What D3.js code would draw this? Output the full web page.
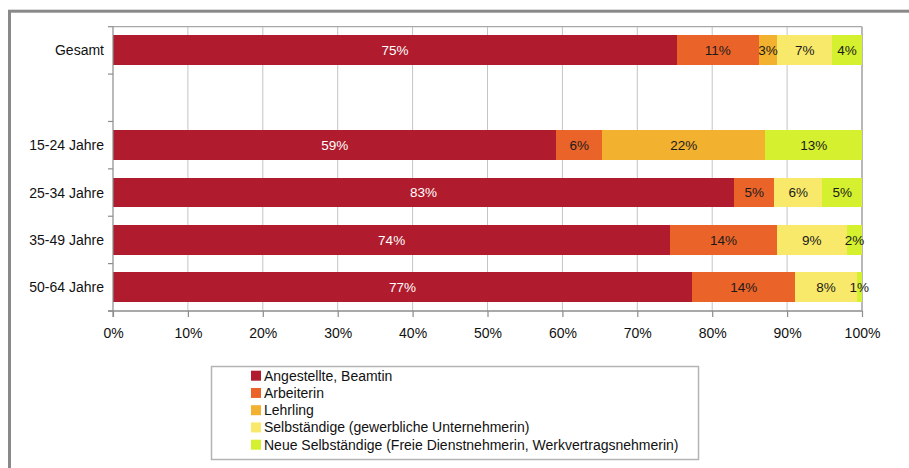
<!DOCTYPE html>
<html>
<head>
<meta charset="utf-8">
<script src="https://cdn.jsdelivr.net/npm/d3@7"></script>
<style>
  body { margin: 0; background: #fff; }
  text { font-family: "Liberation Sans", Arial, sans-serif; }
</style>
</head>
<body>
<script>
// -------------------- DATA --------------------
var categories = ["Gesamt", "", "15-24 Jahre", "25-34 Jahre", "35-49 Jahre", "50-64 Jahre"];
var seriesNames = [
  "Angestellte, Beamtin",
  "Arbeiterin",
  "Lehrling",
  "Selbständige (gewerbliche Unternehmerin)",
  "Neue Selbständige (Freie Dienstnehmerin, Werkvertragsnehmerin)"
];
// values in percent, one array per series, in the order of categories (empty row = null)
var angestellte  = [75.3, null, 59.2, 82.9, 74.4, 77.3];
var arbeiterin   = [10.9, null,  6.1,  5.4, 14.2, 13.8];
var lehrling     = [ 2.5, null, 21.8,  0,    0,    0  ];
var selbstaendig = [ 7.3, null,  0,    6.4,  9.4,  8.2];
var neueSelbst   = [ 4.0, null, 12.9,  5.3,  2.0,  0.7];
var xTicks = [0, 10, 20, 30, 40, 50, 60, 70, 80, 90, 100];

var colors = ["#b01c2e", "#ea642a", "#f2b12e", "#f8e96a", "#d4f02e"];
var series = [angestellte, arbeiterin, lehrling, selbstaendig, neueSelbst];

// -------------------- DIMENSIONS --------------------
var w = 909, h = 468;
var plot = { left: 113, right: 862, top: 26.7, bottom: 311 };

var svg = d3.select("body").append("svg")
  .attr("width", w)
  .attr("height", h);

// outer frame (runs off the right and bottom edge)
svg.append("rect")
  .attr("x", 9.5).attr("y", 11.2)
  .attr("width", 1000).attr("height", 1000)
  .attr("fill", "none")
  .attr("stroke", "#898989")
  .attr("stroke-width", 3);

// -------------------- SCALES --------------------
var x = d3.scaleLinear().domain([0, 100]).range([plot.left, plot.right]);
var y = d3.scaleBand()
  .domain(categories)
  .range([plot.top, plot.bottom])
  .paddingInner(0.37)
  .paddingOuter(0.185);

// gridlines
svg.append("g").selectAll("line")
  .data(xTicks.slice(1))
  .enter().append("line")
  .attr("x1", function(d){ return x(d); })
  .attr("x2", function(d){ return x(d); })
  .attr("y1", plot.top).attr("y2", plot.bottom)
  .attr("stroke", function(d){ return d === 100 ? "#a0a0a0" : "#c4c4c4"; })
  .attr("stroke-width", function(d){ return d === 100 ? 1.5 : 1; });

// top border of plot area
svg.append("line")
  .attr("x1", plot.left).attr("x2", plot.right)
  .attr("y1", plot.top).attr("y2", plot.top)
  .attr("stroke", "#a8a8a8").attr("stroke-width", 1.2);

// -------------------- STACKED BARS --------------------
var rows = categories.map(function(c, i) {
  var start = 0;
  return series.map(function(s, k) {
    var v = s[i];
    var seg = { cat: c, k: k, v: v, x0: start, x1: start + (v || 0) };
    start += (v || 0);
    return seg;
  });
});
var segs = [].concat.apply([], rows).filter(function(d){ return d.v; });

var g = svg.append("g");
g.selectAll("rect")
  .data(segs)
  .enter().append("rect")
  .attr("x", function(d){ return x(d.x0); })
  .attr("width", function(d){ return x(d.x1) - x(d.x0); })
  .attr("y", function(d){ return y(d.cat); })
  .attr("height", y.bandwidth())
  .attr("fill", function(d){ return colors[d.k]; })
  .attr("shape-rendering", "crispEdges");

g.selectAll("text")
  .data(segs)
  .enter().append("text")
  .attr("x", function(d){ return x((d.x0 + d.x1) / 2); })
  .attr("y", function(d){ return y(d.cat) + y.bandwidth() / 2; })
  .attr("dy", "0.36em")
  .attr("text-anchor", "middle")
  .attr("font-size", "13.5px")
  .attr("fill", function(d){ return d.k === 0 ? "#ffffff" : "#1a1a1a"; })
  .text(function(d){ return Math.round(d.v) + "%"; });

// -------------------- AXES --------------------
var axisColor = "#8c8c8c";
// y axis line + ticks at band boundaries
svg.append("line")
  .attr("x1", plot.left).attr("x2", plot.left)
  .attr("y1", plot.top).attr("y2", plot.bottom + 6)
  .attr("stroke", axisColor).attr("stroke-width", 1.2);
var bounds = d3.range(categories.length + 1).map(function(i){ return y.range()[0] + i * y.step(); });
svg.append("g").selectAll("line")
  .data(bounds)
  .enter().append("line")
  .attr("x1", plot.left - 5).attr("x2", plot.left)
  .attr("y1", function(d){ return d; }).attr("y2", function(d){ return d; })
  .attr("stroke", axisColor).attr("stroke-width", 1.2);

svg.append("g").selectAll("text")
  .data(categories)
  .enter().append("text")
  .attr("x", 104)
  .attr("y", function(d){ return y(d) + y.bandwidth() / 2; })
  .attr("dy", "0.36em")
  .attr("text-anchor", "end")
  .attr("font-size", "14px")
  .attr("fill", "#111")
  .text(function(d){ return d; });

// x axis
var xAxis = svg.append("g")
  .attr("transform", "translate(0," + plot.bottom + ")")
  .call(d3.axisBottom(x).tickValues(xTicks).tickSize(6).tickPadding(11)
    .tickFormat(function(d){ return d + "%"; }));
xAxis.select(".domain").attr("stroke", axisColor).attr("stroke-width", 1.5)
  .attr("d", "M" + (plot.left - 5) + ",0H" + plot.right);
xAxis.selectAll(".tick line").attr("stroke", axisColor).attr("stroke-width", 1.2);
xAxis.selectAll(".tick text")
  .attr("font-size", "14px")
  .attr("font-family", "'Liberation Sans', Arial, sans-serif")
  .attr("fill", "#111");

// -------------------- LEGEND --------------------
svg.append("rect")
  .attr("x", 211.5).attr("y", 366.5)
  .attr("width", 487).attr("height", 93)
  .attr("fill", "#fff")
  .attr("stroke", "#b4b4b4")
  .attr("stroke-width", 1.5);

var leg = svg.append("g").selectAll("g")
  .data(seriesNames)
  .enter().append("g")
  .attr("transform", function(d, i){ return "translate(251," + (375.7 + i * 17.25) + ")"; });
leg.append("rect")
  .attr("x", 0).attr("y", -5)
  .attr("width", 10).attr("height", 10)
  .attr("fill", function(d, i){ return colors[i]; });
leg.append("text")
  .attr("x", 13).attr("y", 0)
  .attr("dy", "0.36em")
  .attr("font-size", "14px")
  .attr("fill", "#111")
  .text(function(d){ return d; });
</script>
</body>
</html>
